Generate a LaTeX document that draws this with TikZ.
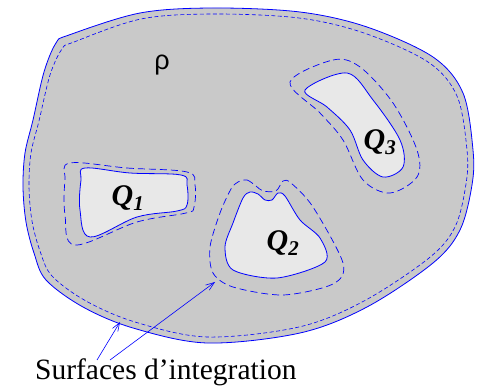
\documentclass[tikz,border=0pt]{standalone}
\usepackage{fontspec}
\setmainfont{Liberation Serif}
\newfontfamily\rhofont{Liberation Sans}
\usetikzlibrary{arrows.meta}

\begin{document}
\begin{tikzpicture}[
  x=1pt, y=-1pt,
  region/.style={
    draw=blue,
    line width=0.8pt,
    fill=black!21
  },
  hole/.style={
    draw=blue,
    line width=0.8pt,
    fill=black!9
  },
  surface/.style={
    draw=blue,
    line width=0.7pt,
    dash pattern=on 7pt off 4pt
  },
  outersurface/.style={
    draw=blue,
    line width=0.6pt,
    dash pattern=on 4pt off 2.5pt
  },
  pointer/.style={
    -{Straight Barb[length=3mm,width=2.2mm]},
    draw=blue,
    line width=0.6pt
  },
  qlabel/.style={
    font=\fontsize{30}{34}\selectfont\bfseries\itshape
  }
]

\path[use as bounding box] (0,0) rectangle (477,387);

% region
\path[region] plot[smooth cycle, tension=0.55] coordinates {
  (56,43) (69,35) (140,13) (213,8) (300,12) (367,27) (433,57) (463,93)
  (473,150) (472,185) (460,230) (433,263) (367,307) (300,333) (207,343)
  (133,328) (83,307) (46,280) (34,253) (26,222) (23,187) (25,153)
  (33,120) (44,72)};
\path[outersurface] plot[smooth cycle, tension=0.55] coordinates {
  (62,49) (74,42) (141,19) (213,14) (299,18) (364,33) (428,62) (457,96)
  (467,150) (466,184) (455,227) (429,258) (364,301) (299,327) (207,337)
  (135,322) (86,301) (52,276) (40,251) (32,221) (29,187) (31,153)
  (39,121) (50,75)};

% Q1
\path[surface] plot[smooth cycle, tension=0.6] coordinates {
  (70,163) (127,168) (187,172) (195,185) (194,207) (186,213) (137,222)
  (75,245) (65,215) (65,180)};
\path[hole] plot[smooth cycle, tension=0.6] coordinates {
  (85,168) (130,173) (181,175) (187,185) (187,205) (177,211) (137,217)
  (90,237) (80,210) (81,180)};

% Q2
\path[surface] plot[smooth cycle, tension=0.5] coordinates {
  (238,182) (247,180) (256,186) (263,191) (276,191) (283,181) (291,183)
  (313,207) (343,263) (333,284) (283,295) (233,287) (213,273) (210,247)
  (220,213) (231,189)};
\path[hole] plot[smooth cycle, tension=0.5] coordinates {
  (250,192) (258,194) (265,200) (272,200) (278,193) (285,196) (300,220)
  (320,238) (325,262) (277,278) (233,270) (225,247) (233,223) (243,198)};

% Q3
\path[surface] plot[smooth cycle, tension=0.55] coordinates {
  (290,82) (333,60) (360,67) (393,103) (417,150) (417,177) (390,193)
  (363,180) (343,140) (320,113)};
\path[hole] plot[smooth cycle, tension=0.55] coordinates {
  (305,90) (347,73) (373,100) (400,140) (403,167) (383,177) (363,160)
  (350,130) (327,107)};

% labels
\node[font=\fontsize{27}{30}\selectfont\rhofont] (rho) at (162,65) {ρ};
\node[qlabel] (q1) at (128,198) {Q\textsubscript{1}};
\node[qlabel] (q2) at (283,243) {Q\textsubscript{2}};
\node[qlabel] (q3) at (380,142) {Q\textsubscript{3}};
\node[anchor=base west, inner sep=0pt, font=\fontsize{29.5}{33}\selectfont]
  (surf) at (35,380) {Surfaces d’integration};

% pointers
\coordinate (p1) at (97,360);
\coordinate (p2) at (110,360);
\coordinate (t1) at (120,322);
\coordinate (t2) at (215,282);
\draw[pointer] (p1) -- (t1);
\draw[pointer] (p2) -- (t2);

\end{tikzpicture}
\end{document}
